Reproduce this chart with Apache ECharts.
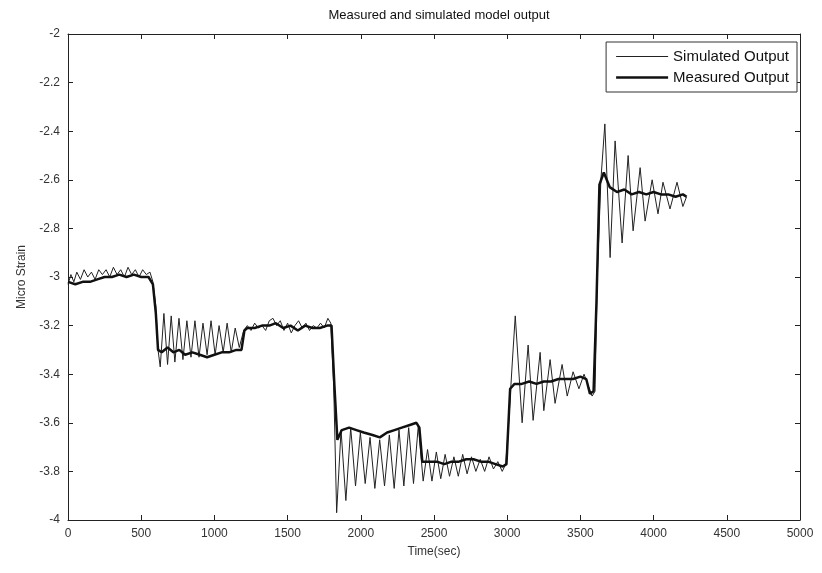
<!DOCTYPE html>
<html>
<head>
<meta charset="utf-8">
<title>Measured and simulated model output</title>
<script src="https://cdn.jsdelivr.net/npm/echarts@6/dist/echarts.min.js"></script>
<style>
  html, body { margin: 0; padding: 0; background: #fff; }
  #chart { width: 822px; height: 573px; }
</style>
</head>
<body>
<div id="chart"></div>
<script>
// axis ticks
var xTicks = [0, 500, 1000, 1500, 2000, 2500, 3000, 3500, 4000, 4500, 5000];
var yTicks = [-4, -3.8, -3.6, -3.4, -3.2, -3, -2.8, -2.6, -2.4, -2.2, -2];

// simulated output (thin line)
var simTime = [
  0, 20, 40, 60, 85, 110, 135, 160, 185, 210, 235, 260, 285, 310, 335, 360, 385, 410, 435, 460,
  485, 510, 535, 560, 580, 600, 615, 630,
  655, 680, 705, 730, 758, 785, 812, 840, 867, 895, 922, 950, 977, 1005, 1032, 1060, 1087, 1115,
  1142, 1170, 1200,
  1225, 1250, 1275, 1300, 1325, 1350, 1375, 1400, 1425, 1450, 1475, 1500, 1525, 1550, 1575, 1600,
  1625, 1650, 1675, 1700, 1725, 1750, 1775, 1795, 1815, 1835,
  1865, 1898, 1931, 1964, 1997, 2030, 2063, 2096, 2129, 2162, 2195, 2228, 2261, 2294, 2327, 2360,
  2393, 2426,
  2456, 2486, 2516, 2546, 2576, 2606, 2636, 2666, 2696, 2726, 2756, 2786, 2816, 2846, 2876, 2906,
  2936, 2966, 2990, 3010, 3035,
  3055, 3102, 3143, 3177, 3225, 3250, 3293, 3327, 3375, 3410, 3450, 3490, 3525, 3555, 3580, 3600,
  3615, 3640,
  3667, 3703, 3737, 3785, 3826, 3860, 3908, 3942, 3990, 4030, 4064, 4112, 4160, 4200, 4225
];
var simValue = [
  -3.03, -2.99, -3.02, -2.98, -3.01, -2.97, -3.00, -2.98, -3.01, -2.97, -2.99, -2.97, -3.00, -2.96, -2.99, -2.97, -3.00, -2.96, -2.99, -2.97,
  -3.00, -2.97, -2.99, -2.98, -3.02, -3.12, -3.30, -3.37,
  -3.15, -3.36, -3.16, -3.35, -3.17, -3.34, -3.18, -3.33, -3.18, -3.33, -3.19, -3.32, -3.18, -3.32, -3.20, -3.31, -3.19, -3.31,
  -3.21, -3.29, -3.22,
  -3.20, -3.22, -3.19, -3.21, -3.20, -3.22, -3.18, -3.17, -3.20, -3.18, -3.22, -3.19, -3.23, -3.20, -3.18, -3.21,
  -3.19, -3.22, -3.20, -3.21, -3.19, -3.21, -3.17, -3.19, -3.45, -3.97,
  -3.63, -3.92, -3.62, -3.86, -3.64, -3.85, -3.66, -3.87, -3.67, -3.86, -3.65, -3.87, -3.63, -3.86, -3.62, -3.85,
  -3.61, -3.84,
  -3.71, -3.84, -3.72, -3.83, -3.73, -3.82, -3.74, -3.82, -3.73, -3.81, -3.74, -3.80, -3.75, -3.80, -3.74, -3.79,
  -3.76, -3.80, -3.77, -3.60, -3.35,
  -3.16, -3.60, -3.28, -3.59, -3.31, -3.55, -3.34, -3.52, -3.36, -3.49, -3.39, -3.46, -3.40, -3.45, -3.49, -3.47,
  -3.00, -2.60,
  -2.37, -2.92, -2.44, -2.86, -2.50, -2.81, -2.55, -2.77, -2.60, -2.74, -2.61, -2.72, -2.61, -2.71, -2.67
];

// measured output (thick line)
var measTime = [
  0, 50, 100, 150, 200, 250, 300, 350, 400, 450, 500, 550, 580, 600, 615, 640, 680, 720, 760, 800,
  850, 900, 950, 1000, 1050, 1100, 1150, 1185, 1205, 1225, 1275, 1325, 1375, 1420, 1470, 1520, 1570,
  1620, 1670, 1720, 1770, 1800, 1820, 1840, 1870, 1920, 1970, 2020, 2080, 2130, 2180, 2230, 2280,
  2330, 2380, 2400, 2420, 2470, 2520, 2570, 2620, 2670, 2720, 2770, 2820, 2870, 2920, 2970, 2995,
  3020, 3050, 3100, 3150, 3200, 3250, 3300, 3350, 3400, 3450, 3500, 3540, 3565, 3590, 3610, 3630,
  3660, 3700, 3750, 3800, 3850, 3900, 3950, 4000, 4050, 4100, 4150, 4200, 4225
];
var measValue = [
  -3.02, -3.03, -3.02, -3.02, -3.01, -3.00, -3.00, -2.99, -3.00, -2.99, -3.00, -3.00, -3.03, -3.15, -3.30, -3.31, -3.29, -3.31, -3.30, -3.32,
  -3.31, -3.32, -3.33, -3.32, -3.31, -3.31, -3.30, -3.30, -3.22, -3.21, -3.21, -3.20, -3.20, -3.19, -3.21, -3.20, -3.22,
  -3.20, -3.21, -3.21, -3.20, -3.20, -3.45, -3.67, -3.63, -3.62, -3.63, -3.64, -3.65, -3.66, -3.64, -3.63, -3.62,
  -3.61, -3.60, -3.62, -3.76, -3.76, -3.76, -3.77, -3.76, -3.76, -3.75, -3.75, -3.76, -3.76, -3.77, -3.78, -3.77,
  -3.46, -3.44, -3.44, -3.43, -3.44, -3.43, -3.43, -3.42, -3.42, -3.42, -3.41, -3.42, -3.48, -3.47, -3.10, -2.62,
  -2.57, -2.63, -2.65, -2.64, -2.66, -2.65, -2.66, -2.65, -2.66, -2.66, -2.67, -2.66, -2.67
];

function zip(ts, vs) {
  var out = [];
  for (var i = 0; i < ts.length; i++) out.push([ts[i], vs[i]]);
  return out;
}

var font = "'Liberation Sans', Arial, sans-serif";
var chart = echarts.init(document.getElementById("chart"));

// plain line samples in the legend, thin and thick
var thinIcon = "path://M0,0H52V1.2H0Z";
var thickIcon = "path://M0,0H52V2.5H0Z";

var option = {
  animation: false,
  backgroundColor: "#fff",
  title: {
    text: "Measured and simulated model output",
    left: 434,
    top: 4,
    textAlign: "center",
    textStyle: { fontFamily: font, fontSize: 13, fontWeight: "normal", color: "#111" }
  },
  grid: { left: 68, right: 22, top: 34, bottom: 53 },
  legend: {
    orient: "vertical",
    right: 25,
    top: 42,
    padding: [7, 8, 7, 10],
    itemGap: 6,
    itemWidth: 52,
    itemHeight: 16,
    symbolKeepAspect: true,
    borderColor: "#333",
    borderWidth: 1,
    backgroundColor: "#fff",
    textStyle: { fontFamily: font, fontSize: 15, color: "#111" },
    data: [
      { name: "Simulated Output", icon: thinIcon },
      { name: "Measured Output", icon: thickIcon }
    ]
  },
  xAxis: [
    {
      type: "value",
      min: 0,
      max: 5000,
      interval: 500,
      name: "Time(sec)",
      nameLocation: "middle",
      nameGap: 26,
      nameTextStyle: { fontFamily: font, fontSize: 12, color: "#333" },
      axisLine: { onZero: false, lineStyle: { color: "#222", width: 1 } },
      axisTick: { inside: true, length: 5, lineStyle: { color: "#222" } },
      axisLabel: {
        fontFamily: font, fontSize: 12, color: "#333", margin: 8,
        formatter: function (v) { return String(v); }
      },
      splitLine: { show: false }
    },
    {
      type: "value",
      position: "top",
      min: 0,
      max: 5000,
      interval: 500,
      axisLine: { show: true, onZero: false, lineStyle: { color: "#222", width: 1 } },
      axisTick: { show: true, inside: true, length: 5, lineStyle: { color: "#222" } },
      axisLabel: { show: false },
      splitLine: { show: false }
    }
  ],
  yAxis: [
    {
      type: "value",
      min: -4,
      max: -2,
      interval: 0.2,
      name: "Micro Strain",
      nameLocation: "middle",
      nameGap: 40,
      nameTextStyle: { fontFamily: font, fontSize: 12, color: "#333" },
      axisLine: { show: true, onZero: false, lineStyle: { color: "#222", width: 1 } },
      axisTick: { show: true, inside: true, length: 5, lineStyle: { color: "#222" } },
      axisLabel: {
        fontFamily: font, fontSize: 12, color: "#333", margin: 8,
        formatter: function (v) { return String(Math.round(v * 10) / 10); }
      },
      splitLine: { show: false }
    },
    {
      type: "value",
      position: "right",
      min: -4,
      max: -2,
      interval: 0.2,
      axisLine: { show: true, onZero: false, lineStyle: { color: "#222", width: 1 } },
      axisTick: { show: true, inside: true, length: 5, lineStyle: { color: "#222" } },
      axisLabel: { show: false },
      splitLine: { show: false }
    }
  ],
  series: [
    {
      name: "Simulated Output",
      type: "line",
      data: zip(simTime, simValue),
      symbol: "none",
      lineStyle: { color: "#222", width: 1 },
      itemStyle: { color: "#222" }
    },
    {
      name: "Measured Output",
      type: "line",
      data: zip(measTime, measValue),
      symbol: "none",
      lineStyle: { color: "#111", width: 2.5 },
      itemStyle: { color: "#111" }
    }
  ]
};

chart.setOption(option);
</script>
</body>
</html>
